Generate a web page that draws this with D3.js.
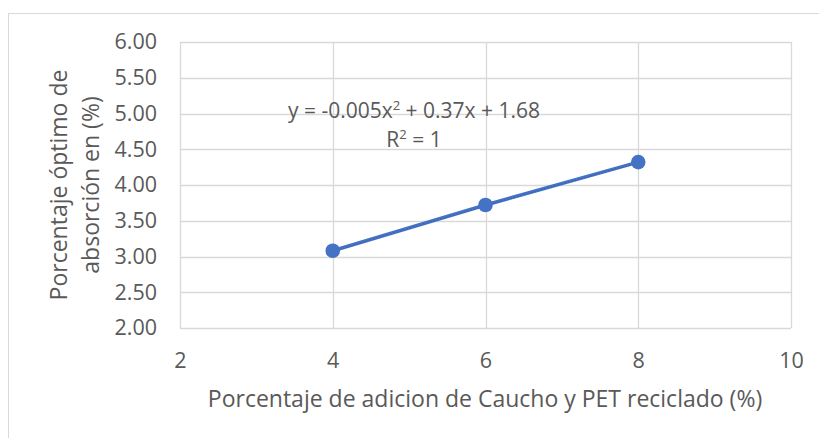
<!DOCTYPE html>
<html>
<head>
<meta charset="utf-8">
<script src="https://cdn.jsdelivr.net/npm/d3@7"></script>
<style>
  html, body { margin: 0; padding: 0; background: #fff; }
  svg { display: block; font-family: "Open Sans", Lato, sans-serif; }
</style>
</head>
<body>
<svg id="chart" width="819" height="438"></svg>
<script>
// Series: rubber + recycled PET addition (%) vs. optimum absorption (%)
const xValues = [4, 6, 8];
const yValues = [3.08, 3.72, 4.32];

// Polynomial trendline coefficients: y = a x^2 + b x + c
const trendCoefs = [-0.005, 0.37, 1.68];

const xTicks = [2, 4, 6, 8, 10];
const yTicks = [2.0, 2.5, 3.0, 3.5, 4.0, 4.5, 5.0, 5.5, 6.0];

const xTitle = "Porcentaje de adicion de Caucho y PET reciclado (%)";
const yTitleLines = ["Porcentaje óptimo de", "absorción en (%)"];

const svg = d3.select("#chart");
const plot = { left: 180, top: 42, right: 791, bottom: 328 };

const gridColor = "#d9d9d9";
const textColor = "#595959";
const blue = "#4472C4";
const tickFont = "21.5px";
const titleFont = "23px";
const eqFont = "21px";

// Chart area border
svg.append("rect")
  .attr("x", 8.5).attr("y", 13.5)
  .attr("width", 840).attr("height", 440)
  .attr("fill", "#fff").attr("stroke", gridColor).attr("stroke-width", 1);

const x = d3.scaleLinear().domain([2, 10]).range([plot.left, plot.right]);
const y = d3.scaleLinear().domain([2, 6]).range([plot.bottom, plot.top]);

// Gridlines
const grid = svg.append("g");
grid.selectAll("line.h").data(yTicks).join("line")
  .attr("x1", plot.left).attr("x2", plot.right)
  .attr("y1", d => Math.round(y(d)) + 0.5).attr("y2", d => Math.round(y(d)) + 0.5)
  .attr("stroke", gridColor).attr("stroke-width", 1.3);
grid.selectAll("line.v").data(xTicks).join("line")
  .attr("y1", plot.top).attr("y2", plot.bottom)
  .attr("x1", d => Math.round(x(d)) + 0.5).attr("x2", d => Math.round(x(d)) + 0.5)
  .attr("stroke", gridColor).attr("stroke-width", 1.3);

// Axes (labels only; the frame comes from the grid)
const yAxis = svg.append("g")
  .attr("transform", `translate(${plot.left},0)`)
  .call(d3.axisLeft(y).tickValues(yTicks).tickFormat(d3.format(".2f")).tickSize(0).tickPadding(23));
yAxis.select(".domain").remove();
yAxis.selectAll("text").attr("fill", textColor)
  .style("font-size", tickFont).style("font-family", "'Open Sans', sans-serif");

const xAxis = svg.append("g")
  .attr("transform", `translate(0,${plot.bottom})`)
  .call(d3.axisBottom(x).tickValues(xTicks).tickFormat(d3.format("d")).tickSize(0).tickPadding(25));
xAxis.select(".domain").remove();
xAxis.selectAll("text").attr("fill", textColor)
  .style("font-size", tickFont).style("font-family", "'Open Sans', sans-serif");

// Axis titles
svg.append("text")
  .attr("x", 485).attr("y", 407)
  .attr("text-anchor", "middle").attr("fill", textColor)
  .style("font-size", titleFont)
  .text(xTitle);

const yt = svg.append("text")
  .attr("transform", "translate(0,185) rotate(-90)")
  .attr("text-anchor", "middle").attr("fill", textColor)
  .style("font-size", titleFont);
yt.selectAll("tspan").data(yTitleLines).join("tspan")
  .attr("x", 0).attr("y", (d, i) => 67 + i * 32)
  .text(d => d);

// Data line
const pts = xValues.map((d, i) => [d, yValues[i]]);
svg.append("path")
  .datum(pts)
  .attr("d", d3.line().x(d => x(d[0])).y(d => y(d[1])))
  .attr("fill", "none").attr("stroke", blue).attr("stroke-width", 3.6)
  .attr("stroke-linecap", "round");

// Polynomial trendline (dotted, drawn over the series line)
const poly = t => trendCoefs[0] * t * t + trendCoefs[1] * t + trendCoefs[2];
const trendPts = d3.range(4, 8.001, 0.1).map(t => [t, poly(t)]);
svg.append("path")
  .datum(trendPts)
  .attr("d", d3.line().x(d => x(d[0])).y(d => y(d[1])))
  .attr("fill", "none").attr("stroke", "#3b64ad").attr("stroke-width", 1.2)
  .attr("stroke-dasharray", "1.5,2")
  .attr("transform", "translate(0,0.8)");

// Markers
svg.selectAll("circle.pt").data(pts).join("circle")
  .attr("cx", d => x(d[0])).attr("cy", d => y(d[1]))
  .attr("r", 7.3).attr("fill", blue);

// Trendline equation and R²
const eq = svg.append("text")
  .attr("x", 414).attr("y", 118)
  .attr("text-anchor", "middle").attr("fill", textColor)
  .style("font-size", eqFont);
eq.append("tspan").text("y = -0.005x");
eq.append("tspan").attr("dy", -8).style("font-size", "13px").text("2");
eq.append("tspan").attr("dy", 8).text(" + 0.37x + 1.68");

const r2 = svg.append("text")
  .attr("x", 414).attr("y", 147)
  .attr("text-anchor", "middle").attr("fill", textColor)
  .style("font-size", eqFont);
r2.append("tspan").text("R");
r2.append("tspan").attr("dy", -8).style("font-size", "13px").text("2");
r2.append("tspan").attr("dy", 8).text(" = 1");
</script>
</body>
</html>
